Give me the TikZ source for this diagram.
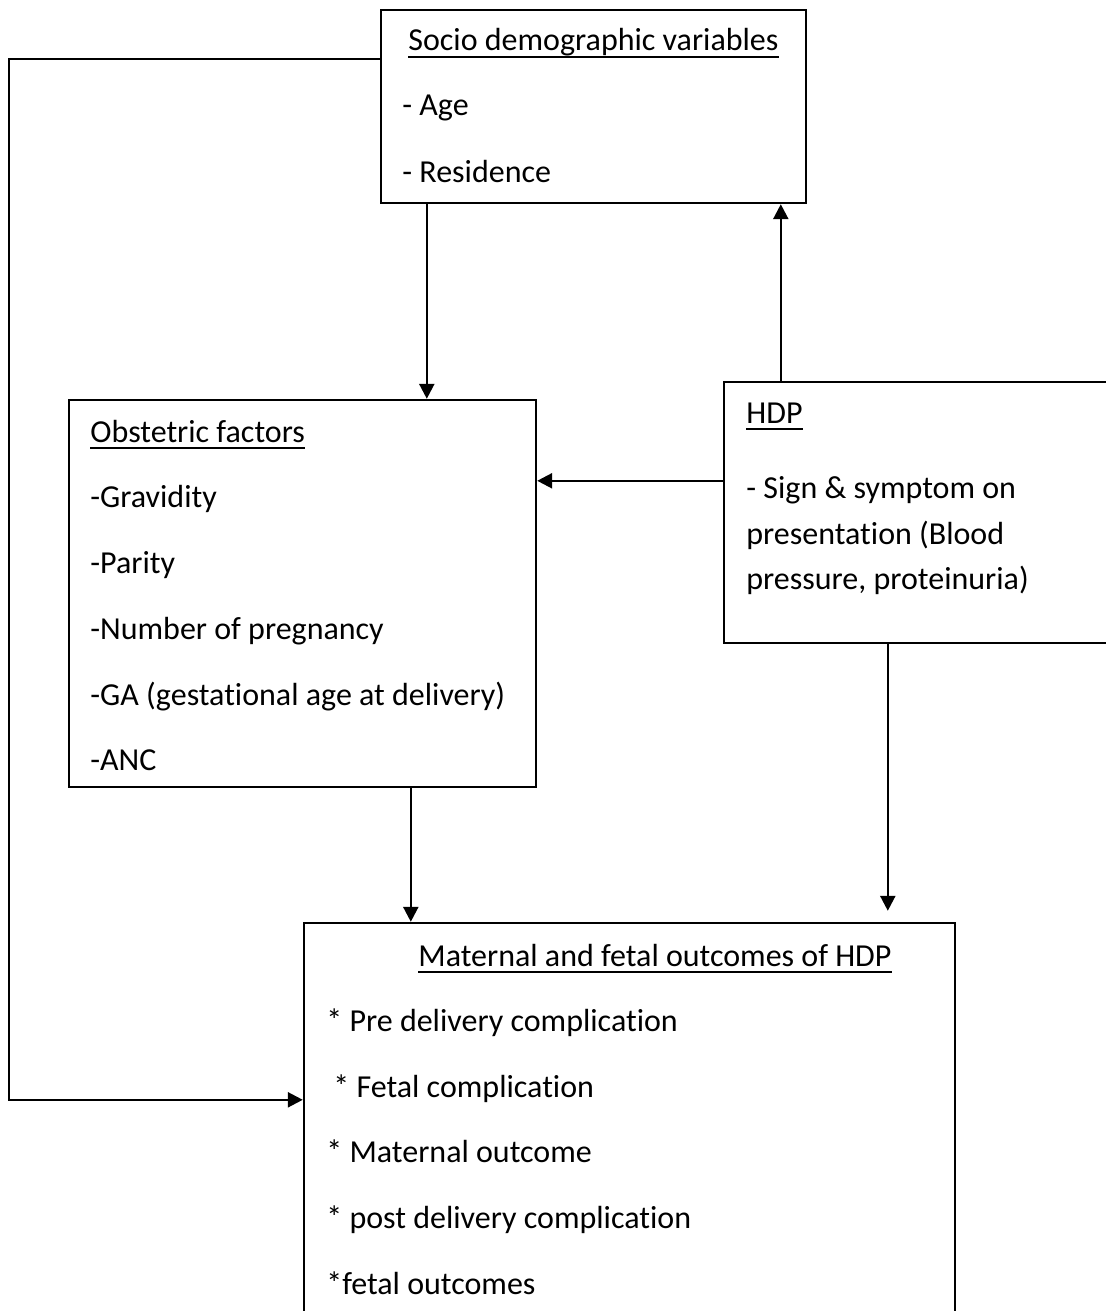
\documentclass[tikz,border=0pt]{standalone}
\usepackage{fontspec}
\setmainfont{Carlito}[Ligatures=NoCommon]
\usetikzlibrary{arrows.meta,calc,fit}
\tikzset{
  flow box/.style={draw=black, line width=1.2pt, inner sep=0pt},
  flow text/.style={
    anchor=base west,
    inner sep=0pt,
    font=\fontsize{16}{19}\selectfont
  },
  flow title rule/.style={line width=1pt},
  flow arrow/.style={-{Triangle[length=7.5pt,width=7.5pt]}, line width=1.2pt}
}
\newcommand{\flowBox}[5]{%
  \node[flow box, fit={(#2,#3) (#4,#5)}] (#1) {};%
}
\newcommand{\flowText}[4][]{%
  \node[flow text,#1] at (#2,#3) {#4};%
}
\newcommand{\flowTitle}[4]{%
  \node[flow text] (#1) at (#2,#3) {#4};%
  \draw[flow title rule] ([yshift=-3pt]#1.base west) -- ([yshift=-3pt]#1.base east);%
}

\begin{document}
\begin{tikzpicture}[x=0.5pt,y=-0.5pt]
  \useasboundingbox (0,0) rectangle (1105,1311);

  \flowBox{socio}{381}{10}{806}{203}
  \flowBox{obst}{69}{400}{536}{787}
  \flowBox{hdp}{724}{382}{1108}{643}
  \flowBox{outcome}{304}{923}{955}{1313}

  % socio demographic variables
  \flowTitle{socioTitle}{408}{51}{Socio demographic variables}
  \flowText{402}{116}{- Age}
  \flowText{402}{182}{- Residence}

  % obstetric factors
  \flowTitle{obstTitle}{90}{442}{Obstetric factors}
  \flowText{90}{507}{-Gravidity}
  \flowText{90}{573}{-Parity}
  \flowText{90}{639}{-Number of pregnancy}
  \flowText{90}{705}{-GA (gestational age at delivery)}
  \flowText{90}{770}{-ANC}

  % HDP
  \flowTitle{hdpTitle}{746}{423}{HDP}
  \flowText{746}{498}{- Sign \& symptom on}
  \flowText{746}{544}{presentation (Blood}
  \flowText{746}{589}{pressure, proteinuria)}

  % outcomes
  \flowTitle{outcomeTitle}{418}{966}{Maternal and fetal outcomes of HDP}
  \flowText{326}{1031}{* Pre delivery complication}
  \flowText{333}{1097}{* Fetal complication}
  \flowText{326}{1162}{* Maternal outcome}
  \flowText{326}{1228}{* post delivery complication}
  \flowText{326}{1294}{*fetal outcomes}

  % connectors
  \draw[flow arrow] ($(socio.south west)+(47,0)$) coordinate (s1) -- (s1 |- obst.north);
  \draw[flow arrow] ($(hdp.north west)+(58,0)$) coordinate (h1) -- (h1 |- socio.south);
  \draw[flow arrow] ($(hdp.north west)+(0,100)$) coordinate (h2) -- (h2 -| obst.east);
  \draw[flow arrow] ($(hdp.south west)+(165,0)$) coordinate (h3) -- ($(h3 |- outcome.north)+(0,-11)$);
  \draw[flow arrow] ($(obst.south west)+(343,0)$) coordinate (o1) -- (o1 |- outcome.north);
  \coordinate (bend) at ($(outcome.north west)+(-294,178)$);
  \draw[flow arrow] ($(socio.north west)+(0,50)$) -| (bend) -- (bend -| outcome.west);
\end{tikzpicture}
\end{document}
